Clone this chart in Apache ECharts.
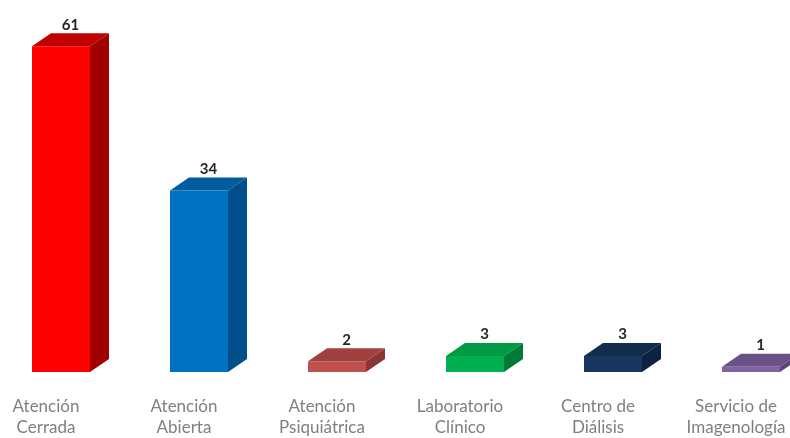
<!DOCTYPE html>
<html>
<head>
<meta charset="utf-8">
<style>
  html, body { margin: 0; padding: 0; background: #fff; }
  #chart { width: 790px; height: 438px; }
</style>
<script src="https://cdn.jsdelivr.net/npm/echarts@6/dist/echarts.min.js"></script>
</head>
<body>
<div id="chart"></div>
<script>
var categories = ['Atención\nCerrada', 'Atención\nAbierta', 'Atención\nPsiquiátrica', 'Laboratorio\nClínico', 'Centro de\nDiálisis', 'Servicio de\nImagenología'];
var values = [61, 34, 2, 3, 3, 1];
// front, side, top colour for each bar
var frontColors = ['#FF0000', '#0070C0', '#C0504D', '#00B050', '#17375E', '#8064A2'];
var sideColors = ['#A00000', '#004E8A', '#8A3634', '#007C38', '#0C2240', '#5A4576'];
var topColors = ['#C00000', '#005C9E', '#9E413F', '#009A45', '#122C4E', '#6A5288'];

var DX = 19, DY = 13; // depth of the fake 3d box
var BAR_W = 58;
var STEP = 138; // px between bar centres
var LABEL_SHIFT = 15; // category labels sit a bit left of the bars

function renderBar(params, api) {
  var i = api.value(0);
  var v = api.value(1);
  var top = api.coord([i, v]);
  var base = api.coord([i, 0]);
  var x0 = top[0] - BAR_W / 2, x1 = top[0] + BAR_W / 2;
  var y0 = top[1], y1 = base[1];
  return {
    type: 'group',
    children: [
      {
        type: 'polygon',
        shape: { points: [[x1, y0], [x1 + DX, y0 - DY], [x1 + DX, y1 - DY], [x1, y1]] },
        style: { fill: sideColors[i] }
      },
      {
        type: 'polygon',
        shape: { points: [[x0, y0], [x0 + DX, y0 - DY], [x1 + DX, y0 - DY], [x1, y0]] },
        style: { fill: topColors[i] }
      },
      {
        type: 'rect',
        shape: { x: x0, y: y0, width: BAR_W, height: y1 - y0 },
        style: { fill: frontColors[i] }
      },
      {
        type: 'text',
        style: {
          text: String(values[i]),
          x: top[0] + DX / 2,
          y: y0 - DY - 1,
          align: 'center',
          verticalAlign: 'bottom',
          fill: '#262626',
          font: 'bold 15px Lato'
        }
      }
    ]
  };
}

var chart = echarts.init(document.getElementById('chart'));
chart.setOption({
  animation: false,
  grid: { left: 0, right: 0, top: 25, bottom: 66, outerBoundsMode: 'none', containLabel: false },
  xAxis: {
    type: 'value',
    // first bar centre at x=61
    min: -61 / STEP,
    max: (790 - 61) / STEP,
    splitLine: { show: false },
    axisLine: { show: false },
    axisTick: { show: false },
    axisLabel: {
      customValues: categories.map(function (c, i) { return i - LABEL_SHIFT / STEP; }),
      formatter: function (v) { return categories[Math.round(v)]; },
      margin: 24,
      color: '#7F7F7F',
      fontFamily: 'Lato',
      fontSize: 17,
      lineHeight: 21
    }
  },
  yAxis: {
    type: 'value',
    min: 0,
    max: 65,
    show: false
  },
  series: [{
    type: 'custom',
    renderItem: renderBar,
    data: values.map(function (v, i) { return [i, v]; })
  }]
});
</script>
</body>
</html>
